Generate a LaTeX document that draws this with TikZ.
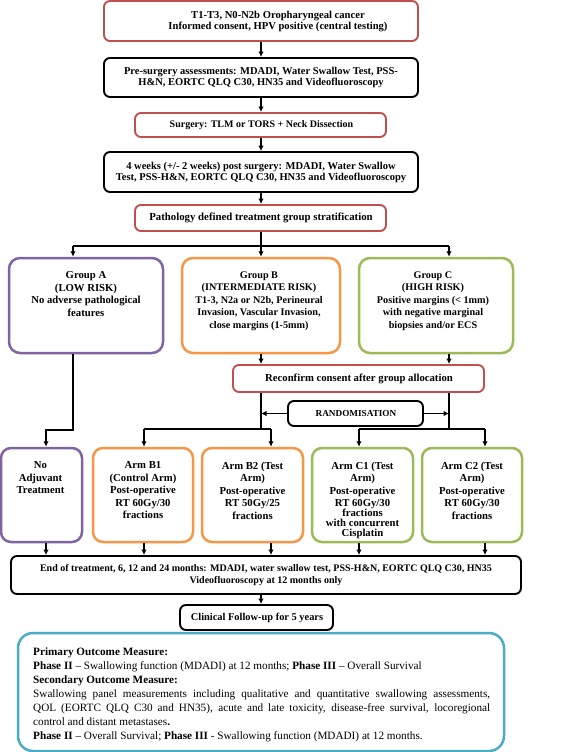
\documentclass[tikz,border=0pt]{standalone}
\usepackage{fontspec}
\setmainfont{Liberation Serif}
\usetikzlibrary{arrows.meta}
\definecolor{cred}{HTML}{C0504D}
\definecolor{cpur}{HTML}{8064A2}
\definecolor{corg}{HTML}{F79646}
\definecolor{cgrn}{HTML}{9BBB59}
\definecolor{cblu}{HTML}{4BACC6}
\begin{document}
\begin{tikzpicture}[x=1pt,y=-1pt,
  base/.style={rounded corners=6pt, line width=1.9pt, inner sep=0pt},
  redbox/.style={base, draw=cred},
  blkbox/.style={base, draw=black},
  grp/.style={rounded corners=11pt, line width=2.5pt, inner sep=0pt},
  txt/.style={inner sep=0pt, align=center, font=\bfseries\fontsize{10.5}{11}\selectfont},
  gtxt/.style={inner sep=0pt, align=center, font=\bfseries\fontsize{10.7}{12.5}\selectfont},
  arr/.style={line width=1.2pt, -{Latex[length=5.5pt,width=5.5pt]}},
  ln/.style={line width=1.2pt}]
\useasboundingbox (0,0) rectangle (567,752);

% top chain
\node[redbox, minimum width=314, minimum height=40] (b1) at (261,21) {};
\node[txt, font=\bfseries\fontsize{10.6}{11}\selectfont] (b1t) at (278,21) {T1-T3, N0-N2b Oropharyngeal cancer\\Informed consent, HPV positive (central testing)};
\node[blkbox, minimum width=314, minimum height=39] (b2) at (261,77.5) {};
\node[txt] (b2t) at (261,77.5) {Pre-surgery assessments: MDADI, Water Swallow Test, PSS-\\H\&N, EORTC QLQ C30, HN35 and Videofluoroscopy};
\node[redbox, minimum width=251, minimum height=24] (b3) at (260.5,125) {};
\node[txt, font=\bfseries\fontsize{10}{11}\selectfont] (b3t) at (261.5,125) {Surgery: TLM or TORS + Neck Dissection};
\node[blkbox, minimum width=314, minimum height=40] (b4) at (261,172) {};
\node[txt] (b4t) at (261,172) {4 weeks (+/- 2 weeks) post surgery: MDADI, Water Swallow\\Test, PSS-H\&N, EORTC QLQ C30, HN35 and Videofluoroscopy};
\node[redbox, minimum width=251, minimum height=26] (b5) at (260.5,218) {};
\node[txt, font=\bfseries\fontsize{10.8}{11}\selectfont] (b5t) at (261,218) {Pathology defined treatment group stratification};

% groups
\node[grp, draw=cpur, minimum width=154, minimum height=95] (gA) at (86,305.5) {};
\node[gtxt, anchor=north] (gAt) at (86,271.5) {Group A\\(LOW RISK)\\No adverse pathological\\features};
\node[grp, draw=corg, minimum width=158, minimum height=95] (gB) at (261,305.5) {};
\node[gtxt, font=\bfseries\fontsize{10.2}{12.5}\selectfont, anchor=north] (gBt) at (259,271.5) {Group B\\(INTERMEDIATE RISK)\\T1-3, N2a or N2b, Perineural\\Invasion, Vascular Invasion,\\close margins (1-5mm)};
\node[grp, draw=cgrn, minimum width=154, minimum height=95] (gC) at (436,305.5) {};
\node[gtxt, font=\bfseries\fontsize{10.2}{12.5}\selectfont, anchor=north] (gCt) at (433,271.5) {Group C\\(HIGH RISK)\\Positive margins (< 1mm)\\with negative marginal\\biopsies and/or ECS};

\node[redbox, minimum width=251, minimum height=27] (rc) at (358.5,378.5) {};
\node[txt, font=\bfseries\fontsize{10.7}{11}\selectfont] (rct) at (359,378.5) {Reconfirm consent after group allocation};
\node[blkbox, minimum width=135, minimum height=25] (rand) at (355.5,413.5) {};
\node[txt, font=\bfseries\fontsize{9.2}{11}\selectfont] (randt) at (356,413.5) {RANDOMISATION};

% arms
\node[grp, rounded corners=10pt, draw=cpur, minimum width=81, minimum height=94] (na) at (41.5,495) {};
\node[gtxt, anchor=north] (nat) at (40.5,461.5) {No\\Adjuvant\\Treatment};
\node[grp, rounded corners=10pt, draw=corg, minimum width=100, minimum height=94] (b1a) at (143,495) {};
\node[gtxt, anchor=north] (b1at) at (143,461.5) {Arm B1\\(Control Arm)\\Post-operative\\RT 60Gy/30\\fractions};
\node[grp, rounded corners=10pt, draw=corg, minimum width=101, minimum height=94] (b2a) at (252.5,495) {};
\node[gtxt, anchor=north] (b2at) at (252.5,461.5) {Arm B2 (Test\\Arm)\\Post-operative\\RT 50Gy/25\\fractions};
\node[grp, rounded corners=10pt, draw=cgrn, minimum width=101, minimum height=94] (c1a) at (362.5,495) {};
\node[gtxt, anchor=north] (c1at) at (362.5,461.5) {Arm C1 (Test\\Arm)\\Post-operative\\RT 60Gy/30\\[-3pt]fractions\\[-2.5pt]with concurrent\\[-2.5pt]Cisplatin};
\node[grp, rounded corners=10pt, draw=cgrn, minimum width=100, minimum height=94] (c2a) at (472,495) {};
\node[gtxt, anchor=north] (c2at) at (472,461.5) {Arm C2 (Test\\Arm)\\Post-operative\\RT 60Gy/30\\fractions};

% bottom
\node[blkbox, minimum width=510, minimum height=38] (eot) at (266,575) {};
\node[txt, font=\bfseries\fontsize{10}{11.5}\selectfont] (eott) at (266,575) {End of treatment, 6, 12 and 24 months: MDADI, water swallow test, PSS-H\&N, EORTC QLQ C30, HN35\\Videofluoroscopy at 12 months only};
\node[blkbox, minimum width=153, minimum height=25] (clin) at (256.5,617.5) {};
\node[txt, font=\bfseries\fontsize{10.4}{11}\selectfont] (clint) at (257,617.5) {Clinical Follow-up for 5 years};
\node[base, rounded corners=15pt, line width=2.5pt, draw=cblu, minimum width=486, minimum height=118] (out) at (261,692) {};
\node[anchor=north west, inner sep=0pt, text width=457pt, align=justify, font=\fontsize{11.2}{13.9}\selectfont] (outt) at (33,648) {\textbf{Primary Outcome Measure:}\\
\textbf{Phase II} \textendash{} Swallowing function (MDADI) at 12 months; \textbf{Phase III} \textendash{} Overall Survival\\
\textbf{Secondary Outcome Measure:}\\
Swallowing panel measurements including qualitative and quantitative swallowing assessments,\linebreak QOL (EORTC QLQ C30 and HN35), acute and late toxicity, disease-free survival, locoregional\linebreak control and distant metastases\textbf{.}\\
\textbf{Phase II} \textendash{} Overall Survival; \textbf{Phase III} - Swallowing function (MDADI) at 12 months.};

% connectors
\coordinate (j1) at (261,246);
\coordinate (jl) at (73,246);
\coordinate (jr) at (449,246);
\coordinate (a1) at (73,430);
\coordinate (a2) at (46,430);
\coordinate (bB) at (261,429);
\coordinate (bC) at (449,429);
\coordinate (p1) at (144,429);
\coordinate (p2) at (271,429);
\coordinate (p3) at (359,429);
\coordinate (p4) at (485,429);

\draw[arr] (b1.south) -- (b2.north);
\draw[arr] (b2.south) -- (b2.south |- b3.north);
\draw[arr] (b2.south |- b3.south) -- (b2.south |- b4.north);
\draw[arr] (b4.south) -- (b4.south |- b5.north);
\draw[ln] (b5.south -| j1) -- (j1);
\draw[ln] (jl) -- (jr);
\draw[arr] (jl) -- (jl |- gA.north);
\draw[arr] (j1) -- (j1 |- gB.north);
\draw[arr] (jr) -- (jr |- gC.north);
\draw[arr] (jl |- gA.south) -- (a1) -- (a2) -- (a2 |- na.north);
\draw[arr] (j1 |- gB.south) -- (j1 |- rc.north);
\draw[arr] (jr |- gC.south) -- (jr |- rc.north);
\draw[ln] (j1 |- rc.south) -- (bB);
\draw[ln] (jr |- rc.south) -- (bC);
\draw[arr] (rand.west) -- (rand.west -| bB);
\draw[arr] (rand.east) -- (rand.east -| bC);
\draw[ln] (p1) -- (p2);
\draw[ln] (p3) -- (p4);
\draw[arr] (p1) -- (p1 |- b1a.north);
\draw[arr] (p2) -- (p2 |- b2a.north);
\draw[arr] (p3) -- (p3 |- c1a.north);
\draw[arr] (p4) -- (p4 |- c2a.north);
\draw[arr] (a2 |- na.south) -- (a2 |- eot.north);
\draw[arr] (p1 |- b1a.south) -- (p1 |- eot.north);
\draw[arr] (p2 |- b2a.south) -- (p2 |- eot.north);
\draw[arr] (p3 |- c1a.south) -- (p3 |- eot.north);
\draw[arr] (p4 |- c2a.south) -- (p4 |- eot.north);
\draw[arr] (j1 |- eot.south) -- (j1 |- clin.north);
\end{tikzpicture}
\end{document}
